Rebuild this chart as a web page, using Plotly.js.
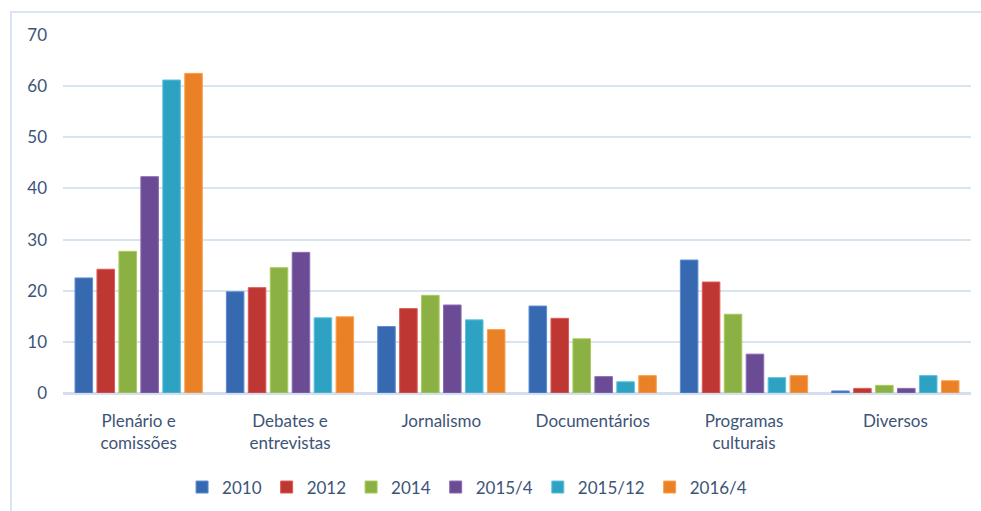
<!DOCTYPE html>
<html>
<head>
<meta charset="utf-8">
<script src="https://cdn.plot.ly/plotly-3.0.1.min.js"></script>
<style>
  html, body { margin: 0; padding: 0; background: #ffffff; }
  #wrap { position: relative; width: 981px; height: 511px; overflow: hidden; }
  #chart { position: absolute; left: 0; top: 0; width: 981px; height: 511px; }
  #frame { position: absolute; left: 10px; top: 11px; width: 985px; height: 510px;
           border: 2px solid #dae5f3; box-sizing: border-box; pointer-events: none; }
</style>
</head>
<body>
<div id="wrap">
  <div id="chart"></div>
  <div id="frame"></div>
</div>
<script>
const categories = [
  "Plenário e<br>comissões",
  "Debates e<br>entrevistas",
  "Jornalismo",
  "Documentários",
  "Programas<br>culturais",
  "Diversos"
];
const seriesNames = ["2010", "2012", "2014", "2015/4", "2015/12", "2016/4"];
const v2010   = [22.5, 19.8, 13.0, 17.0, 26.0, 0.4];
const v2012   = [24.2, 20.6, 16.5, 14.6, 21.7, 0.9];
const v2014   = [27.7, 24.5, 19.1, 10.6, 15.4, 1.5];
const v2015_4 = [42.3, 27.5, 17.2, 3.2, 7.6, 0.9];
const v2015_12 = [61.2, 14.7, 14.3, 2.2, 3.0, 3.4];
const v2016_4 = [62.5, 14.9, 12.4, 3.4, 3.4, 2.4];
const seriesValues = [v2010, v2012, v2014, v2015_4, v2015_12, v2016_4];
const colors = ["#3669b0", "#bf3733", "#8bb043", "#6b4b93", "#2ea2c3", "#eb8126"];
const edge = ["#5b8dd6", "#dc5b57", "#a9cc5c", "#8c6cb4", "#5cc2dc", "#fba04e"];

const textColor = "#3d5478";
const fam = "Lato, 'Open Sans', sans-serif";

const traces = seriesNames.map((name, i) => ({
  type: "bar",
  name: name,
  x: categories,
  y: seriesValues[i],
  marker: { color: colors[i], line: { color: edge[i], width: 1 } },
  hoverinfo: "x+y+name"
}));

const layout = {
  width: 981,
  height: 511,
  margin: { l: 63, r: 10, t: 35, b: 118 },
  paper_bgcolor: "#ffffff",
  plot_bgcolor: "#ffffff",
  font: { family: fam, size: 17, color: textColor },
  barmode: "group",
  bargap: 0.13,
  bargroupgap: 0.2,
  showlegend: true,
  legend: {
    orientation: "h",
    x: 0.445, xanchor: "center",
    yref: "container",
    y: 0.046, yanchor: "middle",
    font: { family: fam, size: 17, color: textColor },
    itemwidth: 30,
    tracegroupgap: 0
  },
  xaxis: {
    type: "category",
    automargin: false,
    tickfont: { family: fam, size: 17, color: textColor },
    showgrid: false,
    showline: false,
    ticks: "",
    ticklabelstandoff: 16
  },
  yaxis: {
    range: [0, 70],
    automargin: false,
    dtick: 10,
    tick0: 0,
    showgrid: true,
    gridcolor: "#d9e4f2",
    gridwidth: 2,
    zeroline: true,
    zerolinecolor: "#d3dff0",
    zerolinewidth: 3,
    showline: false,
    ticks: "",
    ticklabelstandoff: 15,
    tickfont: { family: fam, size: 17, color: textColor }
  }
};

Plotly.newPlot("chart", traces, layout, { displayModeBar: false, staticPlot: true });
</script>
</body>
</html>
